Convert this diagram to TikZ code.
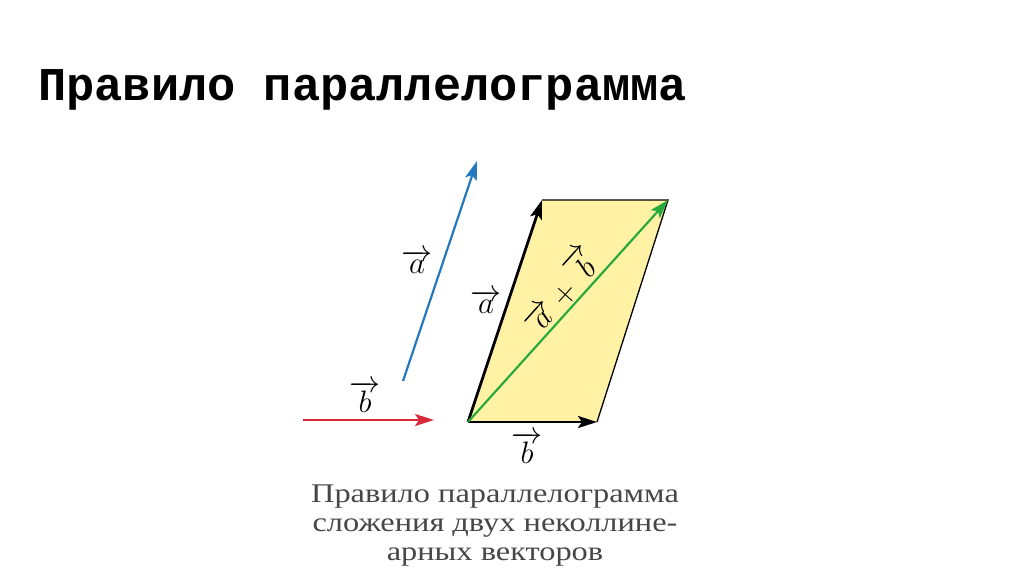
\RequirePackage{fix-cm}
\documentclass[tikz,border=0pt]{standalone}
\usepackage{fontspec}
\setmainfont{Liberation Serif}
\setmonofont{Liberation Mono}
\newfontfamily\capfont[FakeStretch=1.2]{Liberation Serif}
\usetikzlibrary{arrows.meta,positioning}
\definecolor{vecblue}{RGB}{35,120,190}
\definecolor{vecred}{RGB}{215,40,60}
\definecolor{vecgreen}{RGB}{40,170,60}
\definecolor{pgfill}{RGB}{255,242,165}
\definecolor{capgray}{RGB}{70,70,70}
\tikzset
{
    vecarrow/.style = {-{Stealth[length=19pt,width=12pt,inset=4pt]}, line width=2.2pt},
    veclabel/.style = {font=\fontsize{31}{31}\selectfont, inner sep=1pt},
    side/.style     = {draw=black, line width=1.3pt}
}

\begin{document}
\begin{tikzpicture}
	[x=1pt, y=-1pt]
	\useasboundingbox (0,0) rectangle (1024,574);
	\node[anchor=base west, inner sep=0pt, font=\ttfamily\bfseries\fontsize{47}{47}\selectfont] (title) at (38,100) {Правило параллелограмма};
	% free vectors
	\coordinate (astart) at (403,381);
	\coordinate (aend) at (477,161);
	\coordinate (bstart) at (303,420);
	\coordinate (bend) at (434,420);
	\draw[vecarrow, vecblue] (astart) -- (aend);
	\draw[vecarrow, vecred] (bstart) -- (bend);
	\node[veclabel] (alabel) at (417,262) {$\overrightarrow{a}$};
	\node[veclabel] (blabel) at (365,397) {$\overrightarrow{b}$};
	% parallelogram
	\coordinate (O) at (468,422);
	\coordinate (A) at (542,200);
	\coordinate (B) at (597,422);
	\coordinate (C) at (668,200);
	\fill[pgfill] (O) -- (B) -- (C) -- (A) -- cycle;
	\draw[side] (B) -- (C) -- (A);
	\draw[vecarrow, black, line width=2.8pt] (O) -- (A);
	\draw[vecarrow, black, line width=2.8pt] (O) -- (B);
	\draw[vecarrow, vecgreen] (O) -- (C);
	\node[veclabel] (oalabel) at (486,302) {$\overrightarrow{a}$};
	\node[veclabel] (oblabel) at (527,448) {$\overrightarrow{b}$};
	\node[veclabel, rotate=48] (sumlabel) at (560,290) {$\overrightarrow{a}+\overrightarrow{b}$};
	% caption
	\node[anchor=base, align=center, text=capgray, font=\capfont\fontsize{27}{29}\selectfont] (caption) at (495,560) {Правило параллелограмма\\сложения двух неколлине-\\арных векторов};
\end{tikzpicture}
\end{document}
